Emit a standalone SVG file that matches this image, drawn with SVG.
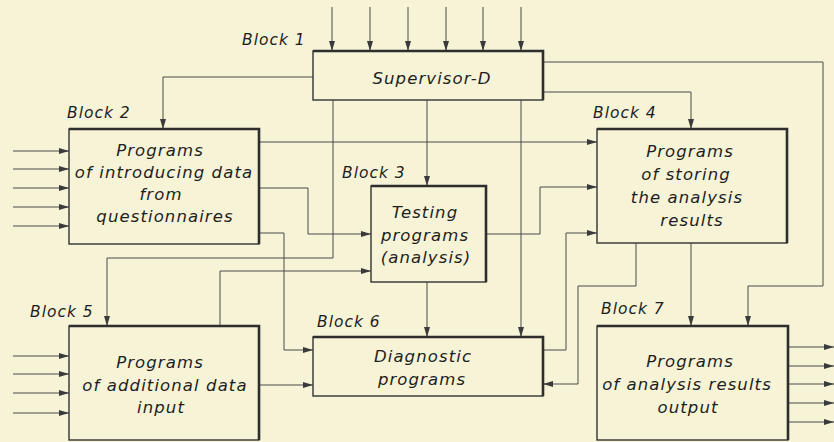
<svg xmlns="http://www.w3.org/2000/svg" width="834" height="442" viewBox="0 0 834 442">
  <defs>
    <marker id="ah" markerWidth="10" markerHeight="6" refX="10" refY="3" orient="auto" markerUnits="userSpaceOnUse">
      <path d="M0,0 L10,3 L0,6 z" fill="#3a3a3a"/>
    </marker>
    <style>
      .bg { fill: #f6f3d6; }
      .box { fill: none; stroke: #333; stroke-width: 1.4; }
      .edge { fill: none; stroke: #2e2e2e; stroke-width: 2.6; stroke-linejoin: miter; }
      .ln { fill: none; stroke: #4a4a4a; stroke-width: 1; }
      .ar { marker-end: url(#ah); }
      .t { font-family: "DejaVu Sans", sans-serif; font-weight: 200; font-style: oblique; font-size: 16.5px; letter-spacing: 1.1px; fill: #1e1e1e; text-anchor: middle; }
      .lb { font-family: "DejaVu Sans", sans-serif; font-weight: 200; font-style: oblique; font-size: 15.5px; letter-spacing: 1px; fill: #1e1e1e; }
    </style>
  </defs>

  <rect class="bg" x="0" y="0" width="834" height="442"/>

  <!-- connectors -->
  <g id="connectors">
    <!-- external inputs to Block 1 -->
    <path class="ln ar" d="M332,7 V51"/>
    <path class="ln ar" d="M370,7 V51"/>
    <path class="ln ar" d="M408,7 V51"/>
    <path class="ln ar" d="M446,7 V51"/>
    <path class="ln ar" d="M483,7 V51"/>
    <path class="ln ar" d="M521,7 V51"/>

    <!-- Block 1 outputs -->
    <path class="ln ar" d="M313,77 H163 V129"/>
    <path class="ln ar" d="M543,62 H823 V286 H748 V326"/>
    <path class="ln ar" d="M543,92 H691 V129"/>
    <path class="ln ar" d="M333,100 V258 H107 V326"/>
    <path class="ln ar" d="M427,100 V186"/>
    <path class="ln ar" d="M521,100 V337"/>

    <!-- Block 2 outputs -->
    <path class="ln ar" d="M259,142 H597"/>
    <path class="ln ar" d="M259,188 H308 V234 H371"/>
    <path class="ln ar" d="M259,233 H284 V350 H313"/>

    <!-- Block 5 outputs -->
    <path class="ln ar" d="M220,326 V271 H371"/>
    <path class="ln ar" d="M259,385 H313"/>

    <!-- Block 3 outputs -->
    <path class="ln ar" d="M486,234 H540 V187 H597"/>
    <path class="ln ar" d="M427,282 V337"/>

    <!-- Block 6 to Block 4 -->
    <path class="ln ar" d="M543,350 H566 V233 H597"/>

    <!-- Block 4 outputs -->
    <path class="ln ar" d="M636,243 V286 H578 V384 H543"/>
    <path class="ln ar" d="M691,243 V326"/>

    <!-- external inputs to Block 2 -->
    <path class="ln ar" d="M13,151 H69"/>
    <path class="ln ar" d="M13,169 H69"/>
    <path class="ln ar" d="M13,188 H69"/>
    <path class="ln ar" d="M13,207 H69"/>
    <path class="ln ar" d="M13,226 H69"/>

    <!-- external inputs to Block 5 -->
    <path class="ln ar" d="M13,356 H69"/>
    <path class="ln ar" d="M13,374 H69"/>
    <path class="ln ar" d="M13,393 H69"/>
    <path class="ln ar" d="M13,413 H69"/>

    <!-- external outputs of Block 7 -->
    <path class="ln ar" d="M788,347 H834"/>
    <path class="ln ar" d="M788,366 H834"/>
    <path class="ln ar" d="M788,384 H834"/>
    <path class="ln ar" d="M788,403 H834"/>
    <path class="ln ar" d="M788,422 H834"/>
  </g>

  <g id="block1">
    <rect class="box" x="313" y="51" width="230" height="49"/>
    <path class="edge" d="M313,51 H543 V100"/>
    <text class="lb" x="242" y="45">Block 1</text>
    <text class="t" x="432" y="84">Supervisor-D</text>
  </g>

  <g id="block2">
    <rect class="box" x="69" y="129" width="190" height="115"/>
    <path class="edge" d="M69,129 H259 V244"/>
    <text class="lb" x="67" y="118">Block 2</text>
    <text class="t" x="160" y="156">Programs</text>
    <text class="t" x="164" y="178">of introducing data</text>
    <text class="t" x="161" y="200">from</text>
    <text class="t" x="165" y="222">questionnaires</text>
  </g>

  <g id="block3">
    <rect class="box" x="371" y="186" width="115" height="96"/>
    <path class="edge" d="M371,186 H486 V282"/>
    <text class="lb" x="342" y="178">Block 3</text>
    <text class="t" x="425" y="218">Testing</text>
    <text class="t" x="425" y="241">programs</text>
    <text class="t" x="426" y="263">(analysis)</text>
  </g>

  <g id="block4">
    <rect class="box" x="597" y="129" width="190" height="114"/>
    <path class="edge" d="M597,129 H787 V243"/>
    <text class="lb" x="593" y="118">Block 4</text>
    <text class="t" x="690" y="157">Programs</text>
    <text class="t" x="686" y="180">of storing</text>
    <text class="t" x="687" y="203">the analysis</text>
    <text class="t" x="692" y="226">results</text>
  </g>

  <g id="block5">
    <rect class="box" x="69" y="326" width="190" height="114"/>
    <path class="edge" d="M69,326 H259 V440"/>
    <text class="lb" x="30" y="317">Block 5</text>
    <text class="t" x="160" y="368">Programs</text>
    <text class="t" x="165" y="391">of additional data</text>
    <text class="t" x="161" y="413">input</text>
  </g>

  <g id="block6">
    <rect class="box" x="313" y="337" width="230" height="59"/>
    <path class="edge" d="M313,337 H543 V396"/>
    <text class="lb" x="317" y="327">Block 6</text>
    <text class="t" x="423" y="362">Diagnostic</text>
    <text class="t" x="422" y="385">programs</text>
  </g>

  <g id="block7">
    <rect class="box" x="597" y="326" width="191" height="114"/>
    <path class="edge" d="M597,326 H788 V440"/>
    <text class="lb" x="601" y="314">Block 7</text>
    <text class="t" x="690" y="367">Programs</text>
    <text class="t" x="687" y="390">of analysis results</text>
    <text class="t" x="688" y="413">output</text>
  </g>
</svg>
